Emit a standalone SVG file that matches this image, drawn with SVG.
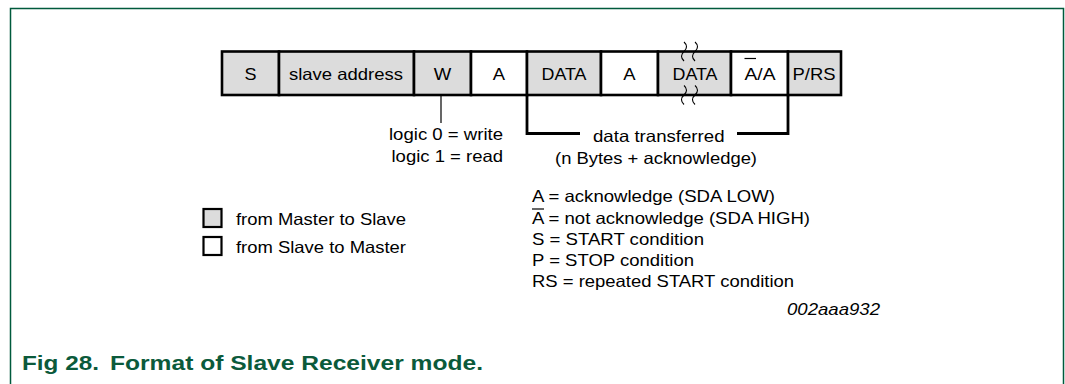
<svg xmlns="http://www.w3.org/2000/svg" width="1065" height="384" viewBox="0 0 1065 384">
<style>
.t{font-family:"Liberation Sans",Arial,sans-serif;font-size:16.5px;fill:#000}
.c{text-anchor:middle}
.gray{fill:#dcdcdc;stroke:#000;stroke-width:2.6}
.white{fill:#fff;stroke:#000;stroke-width:2.6}
.ln{stroke:#000;fill:none}
.fr{stroke:#005a3c;stroke-width:1.5;fill:none}
.cap{font-family:"Liberation Sans",Arial,sans-serif;font-weight:bold;font-size:21px;fill:#0b5a3b}
</style>
<rect width="1065" height="384" fill="#fff"/>
<g id="frame"><path class="fr" d="M10.5,384 V8.5 H1063.5 V384"/></g>
<g id="s"><rect class="gray" x="222" y="51.5" width="57" height="43.5"/><text class="t c" x="250.5" y="79.5" textLength="12" lengthAdjust="spacingAndGlyphs">S</text></g>
<g id="addr"><rect class="gray" x="279" y="51.5" width="135" height="43.5"/><text class="t c" x="346" y="79.5" textLength="114" lengthAdjust="spacingAndGlyphs">slave address</text></g>
<g id="w"><rect class="gray" x="414" y="51.5" width="57" height="43.5"/><text class="t c" x="442.5" y="79.5" textLength="17.5" lengthAdjust="spacingAndGlyphs">W</text></g>
<g id="a1"><rect class="white" x="471" y="51.5" width="56" height="43.5"/><text class="t c" x="499" y="79.5" textLength="12.3" lengthAdjust="spacingAndGlyphs">A</text></g>
<g id="data1"><rect class="gray" x="527" y="51.5" width="74" height="43.5"/><text class="t c" x="564" y="79.5" textLength="45" lengthAdjust="spacingAndGlyphs">DATA</text></g>
<g id="a2"><rect class="white" x="601" y="51.5" width="57" height="43.5"/><text class="t c" x="629.5" y="79.5" textLength="12.3" lengthAdjust="spacingAndGlyphs">A</text></g>
<g id="data2"><rect class="gray" x="658" y="51.5" width="73" height="43.5"/><text class="t c" x="695" y="79.5" textLength="45" lengthAdjust="spacingAndGlyphs">DATA</text>
<path class="ln" stroke-width="1.1" d="M684,42 q5,4.5 0,9.5 q-5,4.5 0,9.5 M695,42 q5,4.5 0,9.5 q-5,4.5 0,9.5 M684,85.5 q5,4.5 0,9.5 q-5,4.5 0,9.5 M695,85.5 q5,4.5 0,9.5 q-5,4.5 0,9.5"/></g>
<g id="nack"><rect class="white" x="731" y="51.5" width="57" height="43.5"/><text class="t c" x="760" y="79.5" textLength="31" lengthAdjust="spacingAndGlyphs">A/A</text><line class="ln" stroke-width="1.2" x1="744.5" y1="58.5" x2="756" y2="58.5"/></g>
<g id="prs"><rect class="gray" x="788" y="51.5" width="53" height="43.5"/><text class="t c" x="814" y="79.5" textLength="43" lengthAdjust="spacingAndGlyphs">P/RS</text></g>
<g id="connectors">
<line class="ln" stroke-width="1.2" x1="441" y1="95" x2="441" y2="123"/>
<path class="ln" stroke-width="2.8" d="M527,95 V133.5 H580 M737,133.5 H788 V95"/>
</g>
<g id="rw">
<text class="t" x="389" y="139.5" textLength="114" lengthAdjust="spacingAndGlyphs">logic 0 = write</text>
<text class="t" x="391.5" y="162" textLength="111.6" lengthAdjust="spacingAndGlyphs">logic 1 = read</text>
</g>
<g id="dt">
<text class="t" x="593" y="141.5" textLength="131.5" lengthAdjust="spacingAndGlyphs">data transferred</text>
<text class="t" x="555" y="163.5" textLength="202" lengthAdjust="spacingAndGlyphs">(n Bytes + acknowledge)</text>
</g>
<g id="legend">
<text class="t" x="532" y="202" textLength="243" lengthAdjust="spacingAndGlyphs">A = acknowledge (SDA LOW)</text>
<text class="t" x="532" y="224" textLength="278" lengthAdjust="spacingAndGlyphs">A = not acknowledge (SDA HIGH)</text>
<line class="ln" stroke-width="1.2" x1="532" y1="209" x2="544" y2="209"/>
<text class="t" x="532" y="245" textLength="172" lengthAdjust="spacingAndGlyphs">S = START condition</text>
<text class="t" x="532" y="266" textLength="162" lengthAdjust="spacingAndGlyphs">P = STOP condition</text>
<text class="t" x="532" y="287" textLength="262" lengthAdjust="spacingAndGlyphs">RS = repeated START condition</text>
</g>
<g id="key">
<rect x="203.5" y="209" width="18" height="18" fill="#dcdcdc" stroke="#000" stroke-width="2.2"/>
<text class="t" x="236" y="225" textLength="170" lengthAdjust="spacingAndGlyphs">from Master to Slave</text>
<rect x="203.5" y="237" width="18" height="18" fill="#fff" stroke="#000" stroke-width="2.2"/>
<text class="t" x="236" y="253" textLength="170" lengthAdjust="spacingAndGlyphs">from Slave to Master</text>
</g>
<text class="t" x="787" y="315" font-style="italic" textLength="93" lengthAdjust="spacingAndGlyphs">002aaa932</text>
<g id="caption">
<text class="cap" x="22" y="370" textLength="77" lengthAdjust="spacingAndGlyphs">Fig 28.</text>
<text class="cap" x="110" y="370" textLength="373" lengthAdjust="spacingAndGlyphs">Format of Slave Receiver mode.</text>
</g>
</svg>
